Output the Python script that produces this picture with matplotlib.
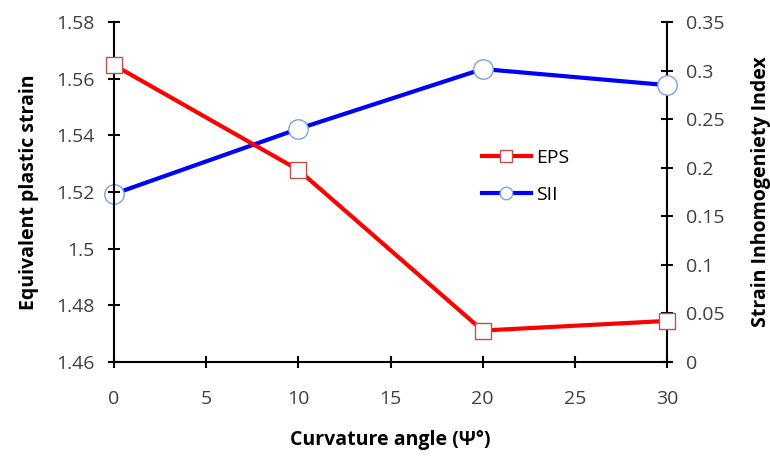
import matplotlib
matplotlib.use("Agg")
import matplotlib.pyplot as plt
from matplotlib.lines import Line2D

plt.rcParams['font.family'] = ['Open Sans', 'DejaVu Sans']

angle = [0, 10, 20, 30]
eps = [1.5648, 1.5278, 1.4711, 1.4745]
sii = [0.173, 0.240, 0.3016, 0.285]

left_ticks = [1.46, 1.48, 1.5, 1.52, 1.54, 1.56, 1.58]
left_labels = ['1.46', '1.48', '1.5', '1.52', '1.54', '1.56', '1.58']
right_ticks = [0, 0.05, 0.1, 0.15, 0.2, 0.25, 0.3, 0.35]
right_labels = ['0', '0.05', '0.1', '0.15', '0.2', '0.25', '0.3', '0.35']

fig = plt.figure(figsize=(7.7, 4.59), dpi=100)
ax = fig.add_axes([114 / 770, 1 - 362 / 459, (667 - 114) / 770, (362 - 22) / 459])
ax2 = ax.twinx()

l1, = ax.plot(angle, eps, color='#ff0000', lw=3, marker='s', ms=11,
              mfc='white', mec='#c0504d', mew=1, zorder=3)
l2, = ax2.plot(angle, sii, color='#0000ff', lw=3, marker='o', ms=14,
               mfc='white', mec='#7aa3d9', mew=1, zorder=3)

ax.set_xlim(0, 30)
ax.set_ylim(1.46, 1.58)
ax2.set_ylim(0, 0.35)
ax.set_xticks([0, 5, 10, 15, 20, 25, 30])
ax.set_yticks(left_ticks)
ax.set_yticklabels(left_labels)
ax2.set_yticks(right_ticks)
ax2.set_yticklabels(right_labels)

for a in (ax, ax2):
    for s in a.spines.values():
        s.set_linewidth(1.5)
    a.spines['top'].set_visible(False)
    a.tick_params(direction='inout', length=8, width=1.5, labelsize=14,
                  labelcolor='#404040', pad=10)
ax.spines['right'].set_visible(False)
ax2.spines['left'].set_visible(False)
ax2.spines['bottom'].set_visible(False)
ax.tick_params(axis='x', pad=16)

ax.set_xlabel('Curvature angle (\u03a8\u00b0)', fontsize=14, fontweight='bold',
              labelpad=16)
ax.set_ylabel('Equivalent plastic strain', fontsize=14, fontweight='bold',
              labelpad=12)
ax2.set_ylabel('Strain Inhomogeniety Index', fontsize=14, fontweight='bold',
               labelpad=19)

ax.set_zorder(ax2.get_zorder() + 1)
ax.patch.set_visible(False)
for ln in (l1, l2):
    ln.set_clip_on(False)

h1 = Line2D([], [], color='#ff0000', lw=3, marker='s', ms=9,
            mfc='white', mec='#c0504d', mew=1)
h2 = Line2D([], [], color='#0000ff', lw=3, marker='o', ms=9,
            mfc='white', mec='#7aa3d9', mew=1)
ax.legend(handles=[h1, h2], labels=['EPS', 'SII'], loc='center left',
          bbox_to_anchor=((482 - 114) / 553, 1 - (176.5 - 22) / 340),
          borderaxespad=0, borderpad=0, frameon=False, fontsize=14,
          handlelength=2.5, labelspacing=1.0, handletextpad=0.3)

fig.savefig('out.png', dpi=100)
